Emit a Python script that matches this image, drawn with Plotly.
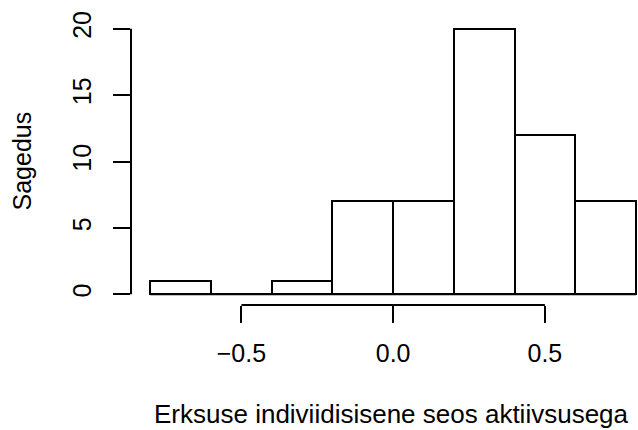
import plotly.graph_objects as go

bin_edges = [-0.8, -0.6, -0.4, -0.2, 0.0, 0.2, 0.4, 0.6, 0.8]
counts = [1, 0, 1, 7, 7, 20, 12, 7]
x_ticks = [-0.5, 0.0, 0.5]
x_tick_labels = ["\u22120.5", "0.0", "0.5"]
y_ticks = [0, 5, 10, 15, 20]
x_title = "Erksuse indiviidisisene seos aktiivsusega"
y_title = "Sagedus"

centers = [(a + b) / 2 for a, b in zip(bin_edges[:-1], bin_edges[1:])]
widths = [b - a for a, b in zip(bin_edges[:-1], bin_edges[1:])]

FONT = "Liberation Sans, Arial, sans-serif"

fig = go.Figure()
fig.add_trace(go.Bar(
    x=centers, y=counts, width=widths,
    marker=dict(color="white", line=dict(color="black", width=2)),
    showlegend=False, hoverinfo="x+y",
))

shapes = [
    # baseline under all bins (covers the empty bin)
    dict(type="line", xref="x", yref="y", x0=bin_edges[0], x1=bin_edges[-1], y0=0, y1=0,
         line=dict(color="black", width=2), layer="above"),
    # R-style partial axis lines
    dict(type="line", xref="paper", yref="y", x0=0, x1=0, y0=y_ticks[0], y1=y_ticks[-1],
         line=dict(color="black", width=2)),
    dict(type="line", xref="x", yref="paper", x0=x_ticks[0], x1=x_ticks[-1], y0=0, y1=0,
         line=dict(color="black", width=2)),
]

L, R, T, B = 131, 0, 18, 125
W, H = 638, 430
pw, ph = W - L - R, H - T - B

fig.update_layout(
    width=W, height=H,
    margin=dict(l=L, r=R, t=T, b=B, pad=0),
    plot_bgcolor="white", paper_bgcolor="white",
    font=dict(family=FONT, size=25, color="black"),
    shapes=shapes,
    bargap=0,
    xaxis=dict(
        range=[-0.864, 0.807], showgrid=False, zeroline=False, showline=False,
        tickvals=x_ticks, ticktext=x_tick_labels,
        ticks="outside", ticklen=17, tickwidth=2, tickcolor="black",
        tickfont=dict(family=FONT, size=25, color="black"),
        ticklabelstandoff=9,
    ),
    yaxis=dict(
        range=[-0.8, 20.8], showgrid=False, zeroline=False, showline=False,
        tickvals=y_ticks, ticktext=[str(v) for v in y_ticks],
        ticks="outside", ticklen=17, tickwidth=2, tickcolor="black",
        tickangle=-90,
        tickfont=dict(family=FONT, size=25, color="black"),
        ticklabelstandoff=12,
    ),
    annotations=[
        dict(text=x_title, xref="paper", yref="paper",
             x=(152 - L) / pw, y=(H - B - 414) / ph,
             xanchor="left", yanchor="middle", showarrow=False,
             font=dict(family=FONT, size=26, color="black")),
        dict(text=y_title, xref="paper", yref="paper",
             x=(21 - L) / pw, y=0.5, textangle=-90,
             xanchor="center", yanchor="middle", showarrow=False,
             font=dict(family=FONT, size=25, color="black")),
    ],
)

fig.write_html("out.html", config={"displayModeBar": False},
               post_script="document.body.style.margin='0px';")
